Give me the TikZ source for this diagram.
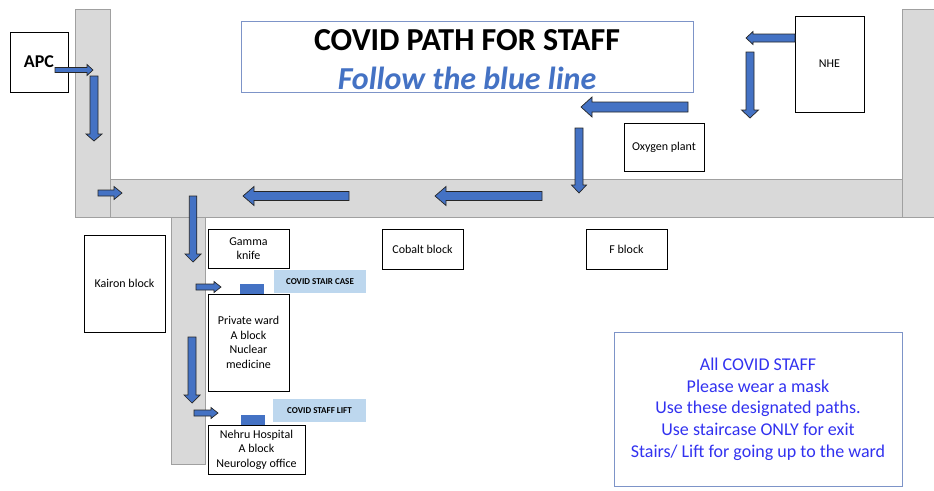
\documentclass[tikz,border=0pt]{standalone}
\usepackage{fontspec}
\setmainfont{Carlito}
\usepackage{tikz}
\usetikzlibrary{positioning}
\definecolor{corridorgray}{RGB}{217,217,217}
\definecolor{walledge}{RGB}{160,160,160}
\definecolor{pathblue}{RGB}{68,114,196}
\definecolor{framegray}{RGB}{125,148,200}
\definecolor{notetext}{RGB}{50,50,240}
\definecolor{tagblue}{RGB}{189,215,238}
\tikzstyle{corridor}=[fill=corridorgray,draw=walledge,line width=1]
\tikzstyle{block}=[rectangle,draw=black,fill=white,line width=0.9,inner sep=0mm,align=center,font=\fontsize{12}{14.5}\selectfont]
\tikzstyle{notice}=[rectangle,draw=framegray,fill=white,line width=0.9,inner sep=0mm,align=center]
\tikzstyle{tag}=[rectangle,fill=tagblue,inner sep=0mm,font=\fontsize{9}{11}\selectfont\bfseries]
\tikzstyle{marker}=[rectangle,fill=pathblue,inner sep=0mm]
\tikzstyle{flowline}=[fill=pathblue,draw=black!85,line width=0.7,line join=miter]
\tikzset{
  pics/flow/.style n args={4}{code={
    \draw[flowline] (0,-#2) -- ({#1-#4},-#2) -- ({#1-#4},-#3) -- (#1,0)
      -- ({#1-#4},#3) -- ({#1-#4},#2) -- (0,#2) -- cycle;
  }}
}

\begin{document}
\begin{tikzpicture}[x=1pt,y=-1pt]
        \clip (0,0) rectangle (934,490);
        \fill[white] (0,0) rectangle (934,490);
        % corridors
        \draw[corridor] (75,9) rectangle (110,217);
        \draw[corridor] (110,179) rectangle (902,217);
        \draw[corridor] (902,9) rectangle (945,217);
        \draw[corridor] (171,217) rectangle (205,464);
        % buildings
        \node[block,minimum width=58,minimum height=60,font=\fontsize{18}{20}\selectfont\bfseries] at (39,62) (apc) {APC};
        \node[notice,minimum width=452,minimum height=71] at (467,56.5) (title) {};
        \node[align=center,inner sep=0mm,font=\fontsize{32}{39}\selectfont\bfseries] at (467,60) (titletext)
          {COVID PATH FOR STAFF\\
           {\itshape\color{pathblue}Follow the blue line}};
        \node[block,minimum width=69,minimum height=96] at (829.5,64) (nhe) {NHE};
        \node[block,minimum width=80,minimum height=48] at (664,147) (oxygen) {Oxygen plant};
        \node[block,minimum width=81,minimum height=40] at (422.5,249) (cobalt) {Cobalt block};
        \node[block,minimum width=81,minimum height=40] at (626.5,249) (fblock) {F block};
        \node[block,minimum width=81,minimum height=39] at (248.5,248.5) (gamma) {Gamma\\knife};
        \node[block,minimum width=81,minimum height=97] at (124.5,283.5) (kairon) {Kairon block};
        \node[block,minimum width=81,minimum height=97] at (248.5,342.5) (private) {Private ward\\A block\\Nuclear\\medicine};
        \node[block,minimum width=97,minimum height=49] at (256.5,449.5) (nehru) {Nehru Hospital\\A block\\Neurology office};
        % stair and lift
        \node[marker,minimum width=24,minimum height=10] at (252,289) (stair) {};
        \node[marker,minimum width=24,minimum height=10] at (253,420) (lift) {};
        \node[tag,minimum width=92,minimum height=23] at (320,281.5) (stairtag) {COVID STAIR CASE};
        \node[tag,minimum width=93,minimum height=23] at (319.5,410.5) (lifttag) {COVID STAFF LIFT};
        % notice
        \node[notice,minimum width=288,minimum height=154,font=\fontsize{18}{21.7}\selectfont\color{notetext}] at (758,409) (note)
          {All COVID STAFF\\Please wear a mask\\Use these designated paths.\\Use staircase ONLY for exit\\Stairs/ Lift for going up to the ward};
        % blue path
        \pic at (55,70) {flow={38}{2.5}{5.5}{6}};
        \pic[rotate=-90] at (94,76) {flow={65}{4}{8}{7}};
        \pic at (98,193) {flow={24}{3}{6.5}{8}};
        \pic[rotate=180] at (349,196) {flow={106}{4.5}{9.5}{11}};
        \pic[rotate=180] at (542,196) {flow={107}{4.5}{9.5}{11}};
        \pic[rotate=-90] at (579,128) {flow={65}{4}{7.5}{8}};
        \pic[rotate=180] at (688,107) {flow={107}{5}{10}{11}};
        \pic[rotate=180] at (795,38) {flow={49}{4}{6.5}{7}};
        \pic[rotate=-90] at (750,52) {flow={66}{4}{8.5}{8}};
        \pic[rotate=-90] at (193,196) {flow={66}{3.75}{8}{8}};
        \pic at (196,287) {flow={25}{3}{5.5}{7}};
        \pic[rotate=-90] at (192,337) {flow={66}{4}{8}{8}};
        \pic at (194,413) {flow={24}{3}{5.5}{7}};
      \end{tikzpicture}
\end{document}
